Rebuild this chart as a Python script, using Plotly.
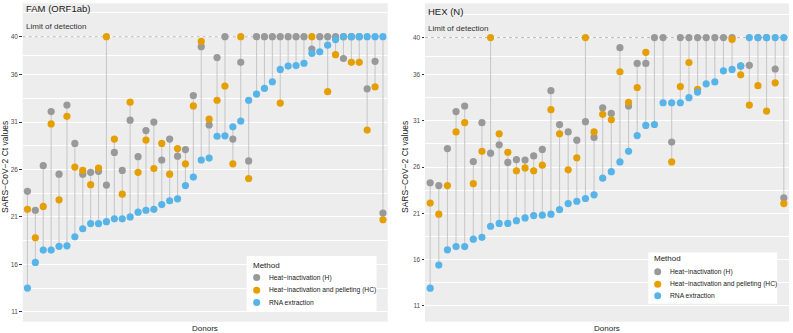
import plotly.graph_objects as go

# ---------------- data ----------------
fam_donors = list(range(1, 47))
fam_h = [23.7, 21.7, 26.4, 32.1, 25.5, 32.8, 28.75, 25.5, 25.7, 25.8,
         24.35, 27.8, 25.9, 31.2, 27.35, 30.1, 31.0, 27.0, 29.2, 27.4,
         28.1, 33.8, 38.95, 30.7, 37.8, 40, 29.2, 37.3, 26.9, 40,
         40, 40, 40, 40, 40, 40, 38.7, 40, 40, 40,
         37.7, 40, 40, 34.5, 37.4, 21.4]
fam_hc = [21.8, 18.8, 22.1, 30.8, 22.8, 31.6, 26.25, 25.9, 24.4, 26.15,
          40, 29.2, 23.4, 33.1, 25.7, 29.1, 26.1, 28.75, 25.5, 28.2,
          26.6, 32.7, 39.5, 31.3, 33.3, 34.8, 26.6, 40, 25.05, None,
          None, None, 33.0, None, None, None, 40, None, 34.2, 38.1,
          40, 37.3, 37.3, 30.15, 34.7, 20.7]
fam_rna = [13.5, 16.2, 17.5, 17.5, 17.9, 17.95, 18.9, 19.75, 20.3, 20.3,
           20.5, 20.8, 20.8, 21.0, 21.5, 21.7, 21.8, 22.3, 22.7, 22.9,
           24.3, 25.2, 27.0, 27.2, 29.5, 29.55, 30.5, 31.1, 33.3, 33.95,
           34.55, 35.25, 36.55, 36.9, 36.95, 37.2, 38.25, 38.4, 39.1, 39.7,
           40, 40, 40, 40, 40, 40]

hex_donors = list(range(1, 43))
hex_h = [24.3, 24.0, 28.0, 32.0, 32.6, 26.6, 30.8, 27.5, 28.4, 26.5,
         26.8, 26.75, 27.2, 27.9, 34.25, 30.6, 29.8, 28.9, 30.9, 29.2,
         32.4, 31.8, 38.9, 32.6, 37.2, 37.2, 40, 40, 28.7, 40,
         40, 40, 40, 40, 40, 40, 36.9, 37.0, 40, 40,
         36.6, 22.66]
hex_hc = [22.1, 20.9, 24.0, 29.8, 30.8, 24.2, 27.7, 40, 29.6, 27.6,
          25.6, 25.9, 25.6, 26.2, 32.2, 29.6, 25.7, 27.0, 40, 29.8,
          31.7, 31.1, 36.3, 33.0, 34.6, 38.4, None, None, 26.55, 34.7,
          37.3, 34.4, None, None, None, 39.8, 35.97, 32.7, 34.8, 32.05,
          35.1, 22.05]
hex_rna = [12.9, 15.4, 17.05, 17.4, 17.4, 18.2, 18.4, 19.6, 19.9, 19.9,
           20.2, 20.5, 20.75, 20.8, 20.9, 21.4, 22.05, 22.3, 22.6, 23.0,
           24.8, 25.5, 26.55, 27.7, 29.4, 30.5, 30.6, 32.95, 32.95, 32.95,
           33.5, 34.1, 35.0, 35.2, 36.4, 36.55, 36.95, 40, 40, 40,
           40, 40]

methods = ["Heat−inactivation (H)", "Heat−inactivation and pelleting (HC)", "RNA extraction"]
method_colors = ["#999999", "#E69F00", "#56B4E9"]
panel_titles = ["FAM (ORF1ab)", "HEX (N)"]
y_ticks = [11, 16, 21, 26, 31, 36, 40]
y_minor = [13.5, 18.5, 23.5, 28.5, 33.5, 38, 42.5]
lod = 40

# ---------------- layout helpers ----------------
W, H = 793, 333
FONT = "Liberation Sans, Arial, sans-serif"


def px(x):
    return x / W


def py(y):
    return 1 - y / H


fig = go.Figure()

panels = [
    dict(donors=fam_donors, series=[fam_h, fam_hc, fam_rna], xa="x", ya="y"),
    dict(donors=hex_donors, series=[hex_h, hex_hc, hex_rna], xa="x2", ya="y2"),
]

for p in panels:
    n = len(p["donors"])
    # limit of detection dashed line across the panel
    fig.add_trace(go.Scatter(x=[0.4, n + 0.6], y=[lod, lod], mode="lines", xaxis=p["xa"], yaxis=p["ya"],
                             line=dict(color="#b5b5b5", width=0.9, dash="3px,3px"),
                             hoverinfo="skip", showlegend=False))
    sx, sy = [], []
    for i, d in enumerate(p["donors"]):
        vals = [s[i] for s in p["series"] if s[i] is not None]
        sx += [d, d, None]
        sy += [min(vals), max(vals), None]
    fig.add_trace(go.Scatter(x=sx, y=sy, mode="lines", xaxis=p["xa"], yaxis=p["ya"],
                             line=dict(color="#c9c9c9", width=1.1),
                             hoverinfo="skip", showlegend=False))
    for name, col, vals in zip(methods, method_colors, p["series"]):
        fig.add_trace(go.Scatter(x=p["donors"], y=vals, mode="markers", name=name,
                                 xaxis=p["xa"], yaxis=p["ya"], showlegend=False,
                                 marker=dict(size=7.2, color=col, line=dict(width=0))))

yaxis_common = dict(
    tickvals=y_ticks, ticks="outside", ticklen=2.5, tickwidth=0.8, tickcolor="#333333",
    tickfont=dict(size=6.5, color="#4d4d4d", family=FONT),
    showgrid=True, gridcolor="white", gridwidth=1.1, zeroline=False, showline=False,
    minor=dict(tickvals=y_minor, showgrid=True, gridcolor="white", gridwidth=0.6, ticks=""),
)
xaxis_common = dict(showgrid=False, zeroline=False, showticklabels=False, ticks="", showline=False)

ydom = [py(321.7), py(3.3)]
fig.update_layout(
    width=W, height=H, autosize=False,
    margin=dict(l=0, r=0, t=0, b=0, pad=0),
    paper_bgcolor="white", plot_bgcolor="#EDEDED",
    font=dict(family=FONT),
    showlegend=False,
    xaxis=dict(domain=[px(22.7), px(387.7)], range=[0.4, len(fam_donors) + 0.6], anchor="y", **xaxis_common),
    yaxis=dict(domain=ydom, range=[9.95, 43.52], anchor="x", **yaxis_common),
    xaxis2=dict(domain=[px(425), px(789)], range=[0.4, len(hex_donors) + 0.6], anchor="y2", **xaxis_common),
    yaxis2=dict(domain=ydom, range=[9.28, 43.7], anchor="x2", **yaxis_common),
)

shapes = []
annotations = []

# panel titles and labels
title_pos = [(24.3, 9.0, 26.7, 5, 205), (426.5, 11.5, 28.5, 405, 607)]
for t, (tx, ty, ly, ytx, dx) in zip(panel_titles, title_pos):
    annotations.append(dict(text=t, x=px(tx), y=py(ty), xref="paper", yref="paper",
                            xanchor="left", yanchor="middle", showarrow=False,
                            font=dict(size=9.5, color="#1a1a1a", family=FONT)))
    annotations.append(dict(text="Limit of detection", x=px(tx), y=py(ly), xref="paper", yref="paper",
                            xanchor="left", yanchor="middle", showarrow=False,
                            font=dict(size=8, color="#333333", family=FONT)))
    annotations.append(dict(text="SARS−CoV−2 Ct values", x=px(ytx), y=py(167), xref="paper", yref="paper",
                            xanchor="center", yanchor="middle", textangle=-90, showarrow=False,
                            font=dict(size=8.5, color="#1a1a1a", family=FONT)))
    annotations.append(dict(text="Donors", x=px(dx), y=py(328), xref="paper", yref="paper",
                            xanchor="center", yanchor="middle", showarrow=False,
                            font=dict(size=8, color="#1a1a1a", family=FONT)))

# custom legends (one per panel)
legends = [
    dict(box=(246.7, 256, 376.5, 311.5), title=(250.5, 265.5), mx=256.7, ys=[277.5, 290.3, 302.5], tx=266.5),
    dict(box=(648.3, 252.5, 777.2, 303.8), title=(651.7, 258.6), mx=657.7, ys=[271.7, 284.2, 295.8], tx=667.5),
]
for lg in legends:
    x0, y0, x1, y1 = lg["box"]
    shapes.append(dict(type="rect", xref="paper", yref="paper", x0=px(x0), x1=px(x1), y0=py(y1), y1=py(y0),
                       fillcolor="white", line=dict(width=0)))
    annotations.append(dict(text="Method", x=px(lg["title"][0]), y=py(lg["title"][1]), xref="paper", yref="paper",
                            xanchor="left", yanchor="middle", showarrow=False,
                            font=dict(size=8, color="#1a1a1a", family=FONT)))
    for name, col, yy in zip(methods, method_colors, lg["ys"]):
        shapes.append(dict(type="circle", xref="paper", yref="paper",
                           x0=px(lg["mx"] - 3.5), x1=px(lg["mx"] + 3.5), y0=py(yy + 3.5), y1=py(yy - 3.5),
                           fillcolor=col, line=dict(width=0)))
        annotations.append(dict(text=name, x=px(lg["tx"]), y=py(yy), xref="paper", yref="paper",
                                xanchor="left", yanchor="middle", showarrow=False,
                                font=dict(size=6.7, color="#1a1a1a", family=FONT)))

fig.update_layout(shapes=shapes, annotations=annotations)
fig.write_html("out.html", config={"displayModeBar": False},
               post_script="document.body.style.margin='0';document.body.style.padding='0';")
